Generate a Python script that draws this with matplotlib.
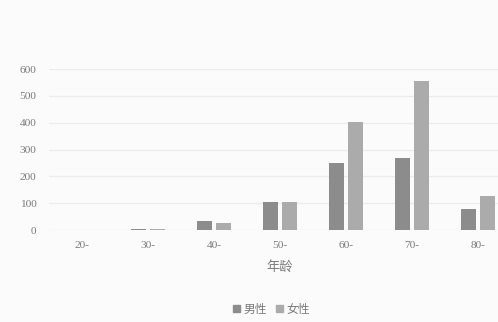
import numpy as np
import matplotlib
matplotlib.use("Agg")
import matplotlib.pyplot as plt
from matplotlib.patches import Patch

plt.rcParams['font.family'] = ['Noto Sans CJK SC', 'DejaVu Sans']

age_groups = ["20-", "30-", "40-", "50-", "60-", "70-", "80-"]
male = [1, 3, 35, 106, 250, 270, 78]
female = [1, 3, 26, 106, 404, 556, 128]
series_names = ["男性", "女性"]
yticks = [0, 100, 200, 300, 400, 500, 600]

male_color = "#8c8c8c"
female_color = "#ababab"
text_color = "#7a7a7a"

fig = plt.figure(figsize=(4.98, 3.22), dpi=100)
fig.patch.set_facecolor("#fbfbfb")
ax = fig.add_axes([0.0984, 0.2857, 0.928, 0.5])
ax.set_facecolor("none")

x = np.arange(len(age_groups))
w = 0.23
ax.bar(x - w / 2 - 0.025, male, width=w, color=male_color, zorder=3)
ax.bar(x + w / 2 + 0.025, female, width=w, color=female_color, zorder=3)

ax.set_xlim(-0.5, len(age_groups) - 0.5)
ax.set_ylim(0, 600)
ax.set_yticks(yticks)
ax.set_xticks(x)
ax.set_xticklabels(age_groups)
ax.tick_params(axis="both", length=0, labelsize=8.2, colors=text_color)
for lab in ax.get_xticklabels() + ax.get_yticklabels():
    lab.set_family(['Liberation Serif', 'DejaVu Serif'])
ax.tick_params(axis="x", pad=8)
ax.tick_params(axis="y", pad=9)
ax.grid(axis="y", color="#ececec", linewidth=1, zorder=0)
for s in ax.spines.values():
    s.set_visible(False)

ax.set_xlabel("年龄", fontsize=9.5, color=text_color, labelpad=8)

handles = [Patch(color=male_color), Patch(color=female_color)]
fig.legend(handles, series_names, loc="center", bbox_to_anchor=(0.545, 0.04),
           ncol=2, frameon=False, fontsize=8.5, labelcolor=text_color,
           handlelength=0.55, handleheight=0.55, handletextpad=0.3, columnspacing=0.8)

fig.savefig("out.png", dpi=100, facecolor=fig.get_facecolor())
